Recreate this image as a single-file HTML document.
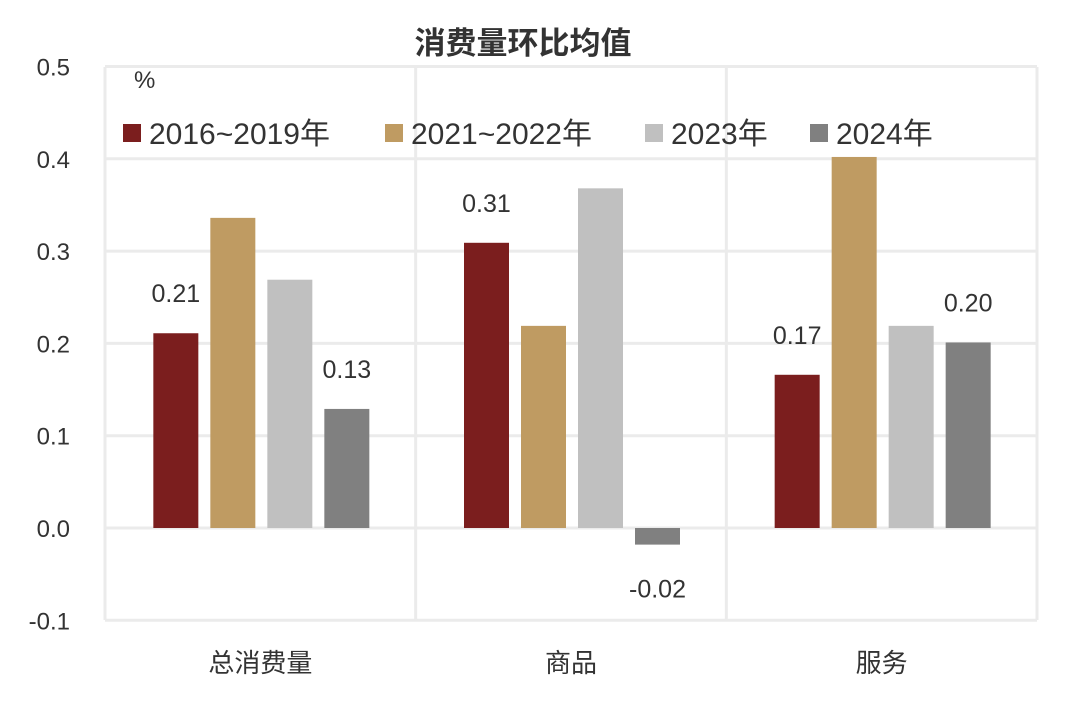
<!DOCTYPE html>
<html><head><meta charset="utf-8"><style>
body{margin:0;background:#fff}
svg text{font-family:"Liberation Sans","Noto Sans CJK SC",sans-serif}
</style></head><body>
<svg id="c" width="1080" height="697"></svg>
<script>
const categories=["总消费量","商品","服务"];
const seriesNames=["2016~2019年","2021~2022年","2023年","2024年"];
const s1=[0.211,0.309,0.166];
const s2=[0.336,0.219,0.402];
const s3=[0.269,0.368,0.219];
const s4=[0.129,-0.018,0.201];
const labelSeries=[true,false,false,true];
const yTicks=[0.5,0.4,0.3,0.2,0.1,0.0,-0.1];
const colors=["#7b1e1e","#bf9b62","#c0c0c0","#808080"];
const svg=document.getElementById('c');
const NS="http://www.w3.org/2000/svg";
const X0=105,X1=1037,Y0=67,Y1=620;
const y=v=>528-v*923;
const catW=(X1-X0)/categories.length;
function el(t,a,txt){const e=document.createElementNS(NS,t);for(const k in a)e.setAttribute(k,a[k]);if(txt!==undefined)e.textContent=txt;svg.appendChild(e);return e;}
let t=el('text',{x:523,y:54,'text-anchor':'middle','font-size':31,'font-weight':'bold',fill:'#333'},'消费量环比均值');


yTicks.forEach(v=>{
 const g=el('line',{x1:X0,x2:X1,y1:y(v),y2:y(v),stroke:'#ebebeb','stroke-width':3});
 
 
 const l=el('text',{x:70,y:y(v)+9,'text-anchor':'end','font-size':24,fill:'#333'},v.toFixed(1));
 
 
});
for(let i=0;i<=categories.length;i++){
 const g=el('line',{x1:X0+i*catW,x2:X0+i*catW,y1:Y0,y2:Y1,stroke:'#ebebeb','stroke-width':3});
 
 
}
t=el('text',{x:134,y:88,'font-size':24,fill:'#333'},'%');


const all=[s1,s2,s3,s4];
categories.forEach((c,i)=>{
 const cx=X0+catW*(i+0.5);
 const l=el('text',{x:cx,y:672,'text-anchor':'middle','font-size':26,fill:'#333'},c);
 
 
 all.forEach((s,j)=>{
  const v=s[i];const bx=cx-107+j*57;
  const top=Math.min(y(v),y(0)),h=Math.abs(y(v)-y(0));
  const r=el('rect',{x:bx,y:top,width:45,height:h,fill:colors[j]});
  
  
  if(labelSeries[j]){
   const ly=v>=0?y(v)-31:y(v)+53;
   const tl=el('text',{x:bx+22.5,y:ly,'text-anchor':'middle','font-size':25,fill:'#333'},v.toFixed(2));
   
   
  }
 });
});
const lx=[123,385,645,810];
seriesNames.forEach((n,j)=>{
 const r=el('rect',{x:lx[j],y:124,width:18,height:18,fill:colors[j]});
 
 
 const tl=el('text',{x:lx[j]+26,y:144,'font-size':30,fill:'#333'},n);
 
 
});
</script>
</body></html>
